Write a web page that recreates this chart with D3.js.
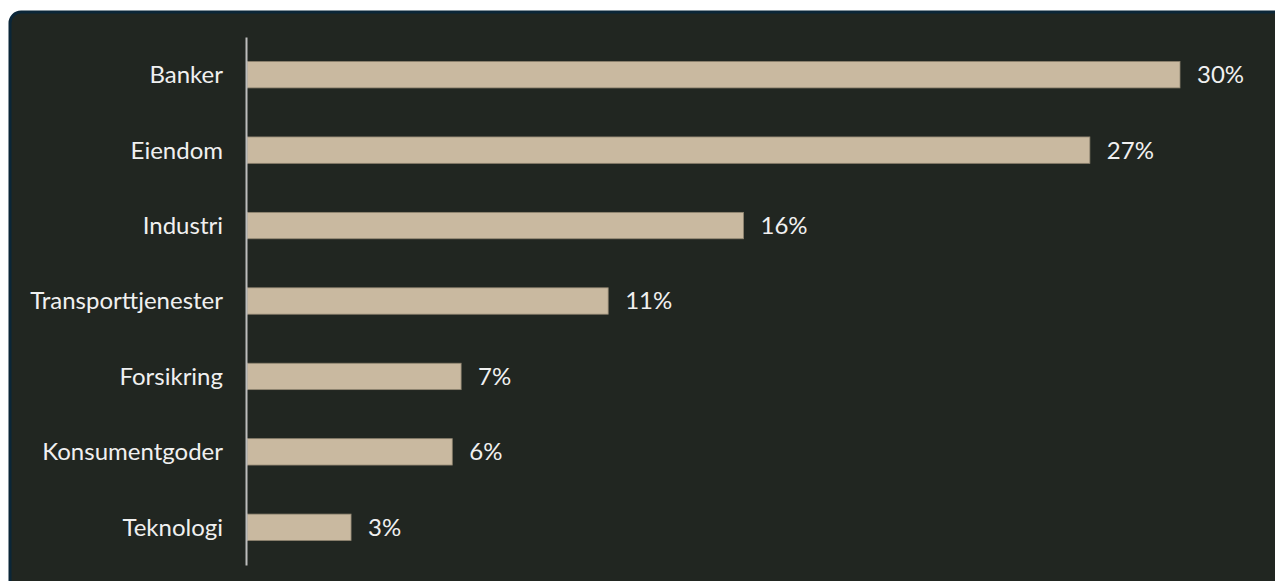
<!DOCTYPE html>
<html>
<head>
<meta charset="utf-8">
<script src="https://cdn.jsdelivr.net/npm/d3@7"></script>
<style>
  html, body { margin: 0; padding: 0; background: #ffffff; }
  svg { display: block; }
</style>
</head>
<body>
<svg id="chart" width="1275" height="581"></svg>
<script>
const categories = ["Banker", "Eiendom", "Industri", "Transporttjenester", "Forsikring", "Konsumentgoder", "Teknologi"];
const values = [29.5, 26.65, 15.7, 11.42, 6.77, 6.49, 3.29];

const svg = d3.select("#chart");
const W = 1275, H = 581;

// frame
svg.append("rect")
  .attr("x", 10).attr("y", 12)
  .attr("width", W + 40).attr("height", H + 40)
  .attr("rx", 11).attr("ry", 11)
  .attr("fill", "#212621")
  .attr("stroke", "#0b2638")
  .attr("stroke-width", 3);

const x0 = 247;
const x = d3.scaleLinear().domain([0, 29.5]).range([x0, 1180]);
const y = d3.scaleBand().domain(categories).range([37, 565])
  .paddingInner(0.65).paddingOuter(0.325);

const data = categories.map((c, i) => ({ c, v: values[i] }));
const fmt = v => d3.format(".0f")(v) + "%";

svg.selectAll("rect.bar").data(data).enter().append("rect")
  .attr("class", "bar")
  .attr("x", x(0))
  .attr("y", d => y(d.c))
  .attr("width", d => x(d.v) - x(0))
  .attr("height", y.bandwidth())
  .attr("fill", "#c9b9a0")
  .attr("stroke", "#8f8470")
  .attr("stroke-width", 0.8);

svg.selectAll("text.val").data(data).enter().append("text")
  .attr("class", "val")
  .attr("x", d => x(d.v) + 17)
  .attr("y", d => y(d.c) + y.bandwidth() / 2)
  .attr("dy", "0.35em")
  .attr("fill", "#f0f0f0")
  .style("font-family", "Lato, sans-serif")
  .style("font-size", "24px")
  .text(d => fmt(d.v));

const axis = d3.axisLeft(y).tickSize(0).tickPadding(23);
const g = svg.append("g").attr("transform", `translate(246,0)`).call(axis);
g.select(".domain").attr("stroke", "#bdbdbd").attr("stroke-width", 2);
g.selectAll("text")
  .attr("fill", "#f0f0f0")
  .attr("dy", "0.35em")
  .style("font-family", "Lato, sans-serif")
  .style("font-size", "24px");
</script>
</body>
</html>
